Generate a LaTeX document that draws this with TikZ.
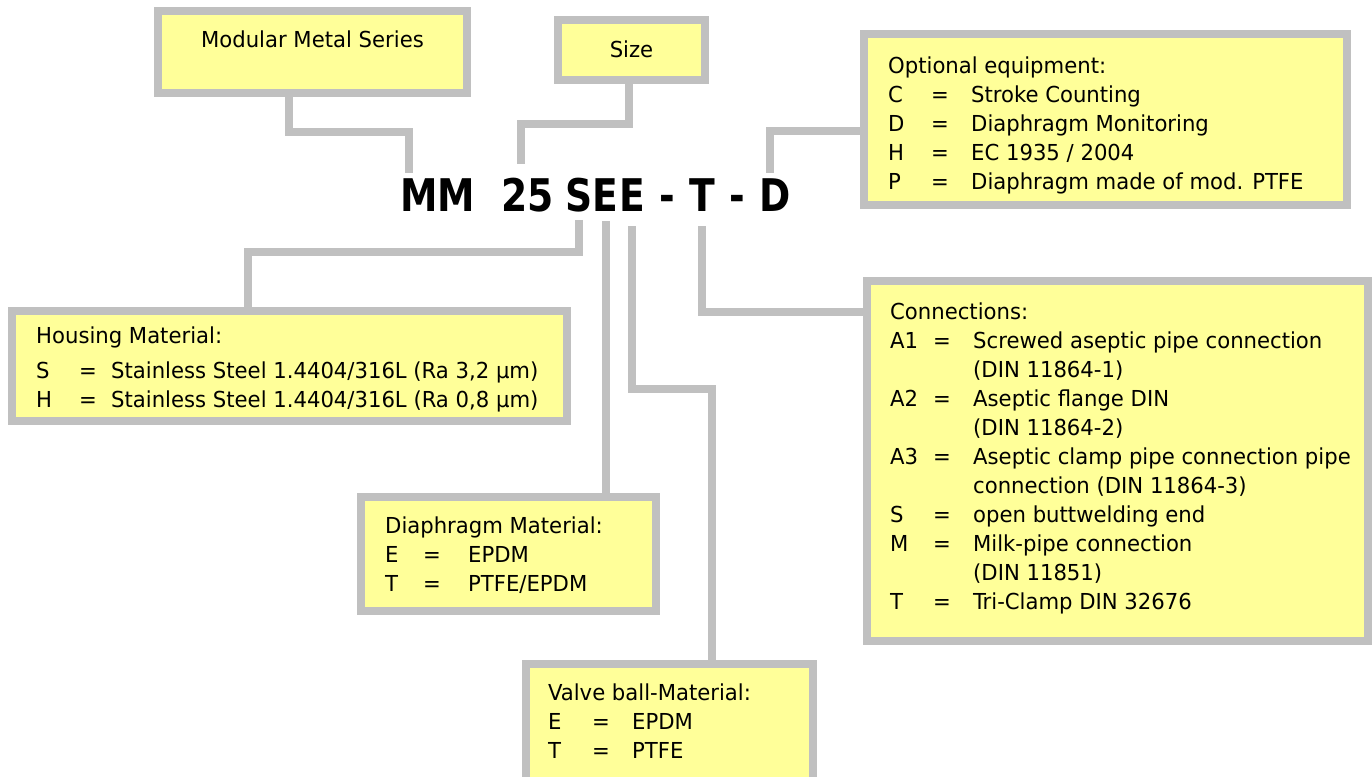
\documentclass[tikz,border=0pt]{standalone}
\usepackage{fontspec}
\setmainfont{DejaVu Sans Condensed}[FakeStretch=1.07]
\newfontfamily\codefont{DejaVu Sans Condensed}[FakeStretch=0.93]
\usetikzlibrary{positioning}
\definecolor{boxyellow}{HTML}{FFFF99}
\definecolor{framegray}{HTML}{C0C0C0}
\newlength\keywd
\newlength\eqwd
\newcommand\kv[2]{\makebox[\keywd][l]{#1}\makebox[\eqwd][l]{=}#2}
\newcommand\more[1]{\hspace*{\dimexpr\keywd+\eqwd\relax}#1}
\tikzset{
  box/.style={draw=framegray, line width=8pt, fill=boxyellow, inner sep=0pt,
    outer sep=0pt, anchor=north west},
  txt/.style={inner sep=0pt, align=left, anchor=north west,
    font=\fontsize{22}{29}\selectfont},
  cols/.style 2 args={execute at begin node={\setlength\keywd{#1}\setlength\eqwd{#2}}},
  code/.style={inner sep=0pt, anchor=base west,
    font=\codefont\fontsize{45}{54}\selectfont\bfseries},
  wire/.style={draw=framegray, line width=8pt},
}
\begin{document}
\begin{tikzpicture}[x=1pt, y=-1pt]
  \useasboundingbox[fill=white] (0,0) rectangle (1372,776);
  % boxes
  \node[box, minimum width=309, minimum height=82] (mod) at (158,11) {};
  \node[box, minimum width=147, minimum height=60] (size) at (558,20) {};
  \node[box, minimum width=483, minimum height=171] (opt) at (864,34) {};
  \node[box, minimum width=501, minimum height=360] (conn) at (867,281) {};
  \node[box, minimum width=555, minimum height=110] (housing) at (12,311) {};
  \node[box, minimum width=295, minimum height=114] (diaph) at (361,497) {};
  \node[box, minimum width=287, minimum height=140] (valve) at (526,664) {};
  % texts
  \node[txt, anchor=base] (modtxt) at ([yshift=-37pt]mod.north) {Modular Metal Series};
  \node[txt, anchor=base] (sizetxt) at ([yshift=-38pt]size.north) {Size};
  \node[txt, cols={43pt}{40pt}] (opttxt) at ([shift={(24,22.5)}]opt.north west) {%
    Optional equipment:\\
    \kv{C}{Stroke Counting}\\
    \kv{D}{Diaphragm Monitoring}\\
    \kv{H}{EC 1935 / 2004}\\
    \kv{P}{Diaphragm made of mod. PTFE}};
  \node[txt, cols={43pt}{40pt}] (conntxt) at ([shift={(23,21.5)}]conn.north west) {%
    Connections:\\
    \kv{A1}{Screwed aseptic pipe connection}\\
    \more{(DIN 11864-1)}\\
    \kv{A2}{Aseptic flange DIN}\\
    \more{(DIN 11864-2)}\\
    \kv{A3}{Aseptic clamp pipe connection pipe}\\
    \more{connection (DIN 11864-3)}\\
    \kv{S}{open buttwelding end}\\
    \kv{M}{Milk-pipe connection}\\
    \more{(DIN 11851)}\\
    \kv{T}{Tri-Clamp DIN 32676}};
  \node[txt, cols={43pt}{32pt}] (housingtxt) at ([shift={(24,15.5)}]housing.north west) {%
    Housing Material:\\[6pt]
    \kv{S}{Stainless Steel 1.4404/316L (Ra 3,2 µm)}\\
    \kv{H}{Stainless Steel 1.4404/316L (Ra 0,8 µm)}};
  \node[txt, cols={38pt}{45pt}] (diaphtxt) at ([shift={(24,19.5)}]diaph.north west) {%
    Diaphragm Material:\\
    \kv{E}{EPDM}\\
    \kv{T}{PTFE/EPDM}};
  \node[txt, cols={44pt}{40pt}] (valvetxt) at ([shift={(22,19.5)}]valve.north west) {%
    Valve ball-Material:\\
    \kv{E}{EPDM}\\
    \kv{T}{PTFE}};
  % type code
  \node[code] (mm) at (400,211) {MM};
  \node[code, base right=26pt of mm] (num) {25};
  \node[code, base right=11pt of num] (s) {S};
  \node[code, base right=0pt of s] (e1) {E};
  \node[code, base right=0pt of e1] (e2) {E};
  \node[code, base right=14pt of e2] (dash1) {-};
  \node[code, base right=14pt of dash1] (t) {T};
  \node[code, base right=14pt of t] (dash2) {-};
  \node[code, base right=14pt of dash2] (d) {D};
  % connectors
  \draw[wire] ([xshift=131pt]mod.south west) -- ++(0,39) -| ([xshift=9pt, yshift=5pt]mm.north west);
  \draw[wire] ([xshift=71pt]size.south west) -- ++(0,44) -| ([xshift=20pt, yshift=13pt]num.north west);
  \draw[wire] ([yshift=-97pt]opt.north west) -| ([xshift=-5pt, yshift=5pt]d.north);
  \draw[wire] ([yshift=-8pt]s.south) -- ++(0,32) -| ([xshift=236pt]housing.north west);
  \draw[wire] ([yshift=-10pt]e1.south) -- (e1.south |- diaph.north);
  \draw[wire] ([yshift=-15pt]e2.south) -- ++(0,163) -| ([xshift=186pt]valve.north west);
  \draw[wire] ([yshift=-15pt]t.south) |- ([yshift=-31pt]conn.north west);
\end{tikzpicture}
\end{document}
